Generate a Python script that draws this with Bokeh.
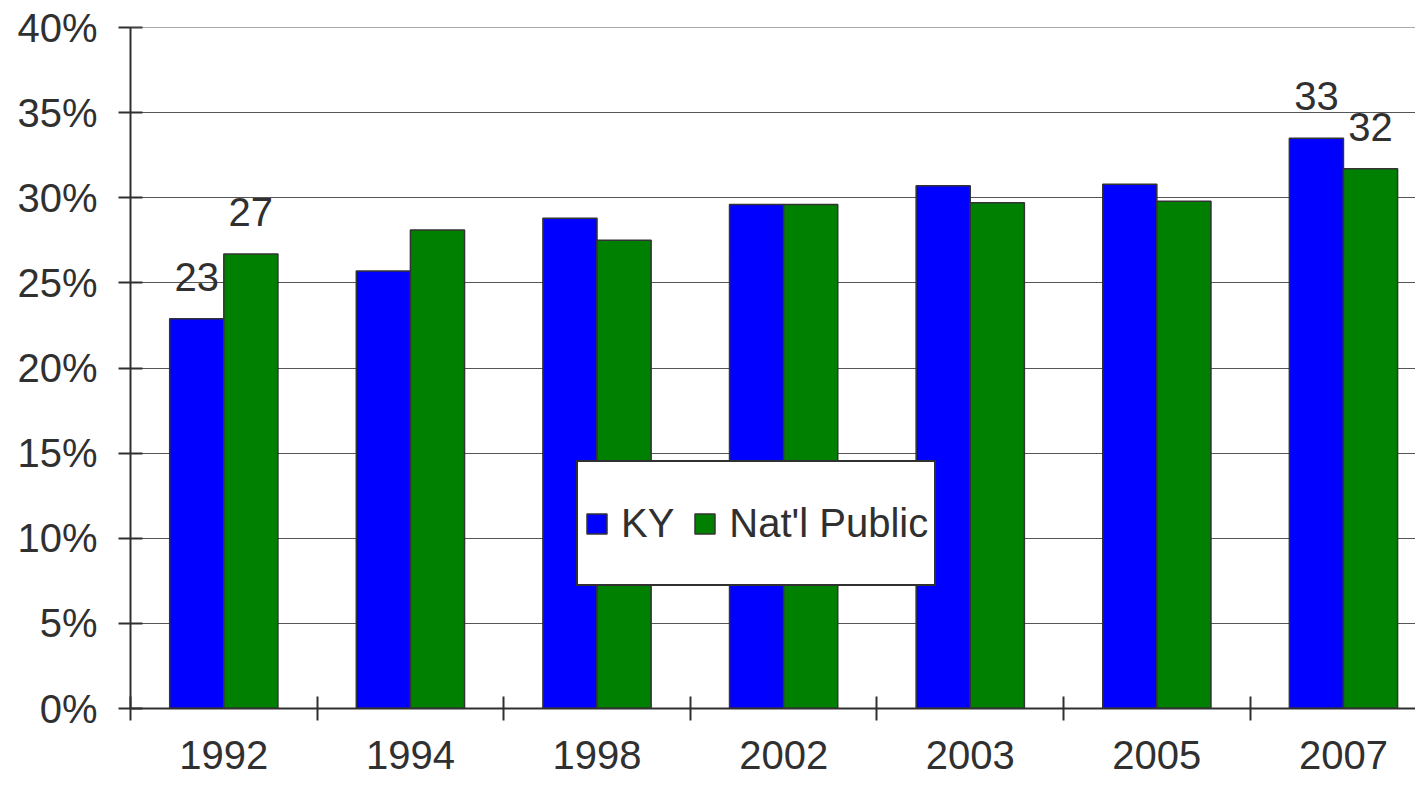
from bokeh.plotting import figure
from bokeh.models import ColumnDataSource, FixedTicker, PrintfTickFormatter, Range1d, Legend, LegendItem, Span
from bokeh.core.properties import value
from bokeh.embed import file_html
from bokeh.resources import INLINE

years = ["1992", "1994", "1998", "2002", "2003", "2005", "2007"]
ky = [22.9, 25.7, 28.8, 29.6, 30.7, 30.8, 33.5]
natl = [26.7, 28.1, 27.5, 29.6, 29.7, 29.8, 31.7]
ky_labels = ["23", "", "", "", "", "", "33"]
natl_labels = ["27", "", "", "", "", "", "32"]
y_ticks = [0, 5, 10, 15, 20, 25, 30, 35, 40]

FONT = "Liberation Sans"
TXT = "#303030"

idx = list(range(len(years)))
centers = [i + 0.5 for i in idx]
bounds = list(range(len(years) + 1))
bw = 0.29

src = ColumnDataSource(dict(
    c=centers, ky=ky, natl=natl,
    ky_x=[c - bw / 2 for c in centers], natl_x=[c + bw / 2 for c in centers],
    ky_lab=ky_labels, natl_lab=natl_labels,
))

p = figure(width=1415, height=778, output_backend="svg", toolbar_location=None,
           x_range=Range1d(0, 6.886), y_range=Range1d(0, 40),
           min_border_left=130, min_border_right=0, min_border_top=27, min_border_bottom=70)
p.outline_line_color = None
p.background_fill_color = "white"

r1 = p.vbar(x="ky_x", top="ky", width=bw, bottom=0, source=src,
            fill_color="#0000FF", line_color="#333333", line_width=1.5)
r2 = p.vbar(x="natl_x", top="natl", width=bw, bottom=0, source=src,
            fill_color="#008000", line_color="#333333", line_width=1.5)

p.text(x="ky_x", y="ky", text="ky_lab", source=src, text_align="center",
       text_baseline="alphabetic", y_offset=-42, text_font=value(FONT),
       text_font_size="40px", text_color=TXT)
p.text(x="natl_x", y="natl", text="natl_lab", source=src, text_align="center",
       text_baseline="alphabetic", y_offset=-42, text_font=value(FONT),
       text_font_size="40px", text_color=TXT)

# axes
p.xaxis.ticker = FixedTicker(ticks=centers, minor_ticks=bounds)
p.xaxis.major_label_overrides = {c: y for c, y in zip(centers, years)}
p.xaxis.major_tick_in = 0
p.xaxis.major_tick_out = 0
p.xaxis.minor_tick_in = 12
p.xaxis.minor_tick_out = 12
p.xaxis.minor_tick_line_color = "#303030"
p.xaxis.minor_tick_line_width = 2
p.xaxis.major_label_standoff = 20
p.xaxis.axis_line_color = "#303030"
p.xaxis.axis_line_width = 2

p.yaxis.ticker = FixedTicker(ticks=y_ticks)
p.yaxis.formatter = PrintfTickFormatter(format="%d%%")
p.yaxis.major_tick_in = 12
p.yaxis.major_tick_out = 12
p.yaxis.minor_tick_line_color = None
p.yaxis.major_tick_line_color = "#303030"
p.yaxis.major_tick_line_width = 2
p.yaxis.major_label_standoff = 21
p.yaxis.axis_line_color = "#303030"
p.yaxis.axis_line_width = 2

for ax in (p.xaxis, p.yaxis):
    ax.major_label_text_font = FONT
    ax.major_label_text_font_size = "40px"
    ax.major_label_text_color = TXT

p.xgrid.grid_line_color = None
p.ygrid.ticker = FixedTicker(ticks=y_ticks)
p.ygrid.grid_line_color = "#555555"
p.ygrid.grid_line_width = 1
p.add_layout(Span(location=y_ticks[-1], dimension="width", line_color="#555555", line_width=1))

legend = Legend(items=[LegendItem(label="KY", renderers=[r1]),
                       LegendItem(label="Nat'l Public", renderers=[r2])],
                location=(446, 122), orientation="horizontal",
                glyph_width=25, glyph_height=25, label_height=110,
                padding=6, spacing=18, label_standoff=12, margin=0,
                label_text_font=FONT, label_text_font_size="40px",
                label_text_color=TXT, border_line_color="#303030",
                border_line_width=2, border_line_alpha=1.0,
                background_fill_alpha=1.0)
p.add_layout(legend, "center")

open("out.html", "w").write(file_html(p, INLINE))
